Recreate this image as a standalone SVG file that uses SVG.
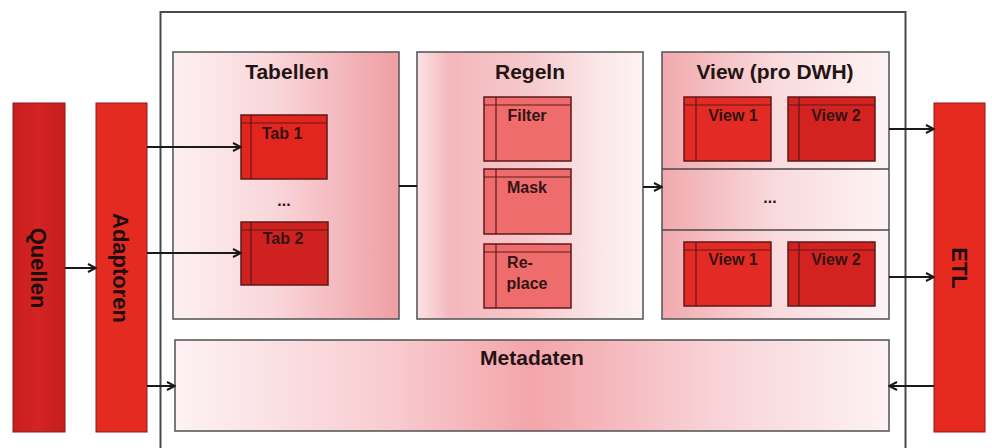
<svg xmlns="http://www.w3.org/2000/svg" width="992" height="448" viewBox="0 0 992 448">
<style>
.title{font-family:"Liberation Sans",Arial,sans-serif;font-weight:bold;font-size:21px;fill:#231414;text-anchor:middle}
.lbl{font-family:"Liberation Sans",Arial,sans-serif;font-weight:bold;font-size:16px;fill:#341414;text-anchor:middle}
.rot{font-family:"Liberation Sans",Arial,sans-serif;font-weight:bold;font-size:22px;fill:#1e0d0d;text-anchor:middle}
.panel{stroke:#5a5a5a;stroke-width:1.6}
.inner{stroke:#5e1818;stroke-width:1.5}
.sub{stroke:#5e1818;stroke-width:1.2;fill:none}
.bar{stroke:#8e1a1a;stroke-width:1}
.conn{stroke:#1a1a1a;stroke-width:2;fill:none}
</style>
<defs>
<marker id="arr" viewBox="0 0 10 10" refX="9" refY="5" markerWidth="10" markerHeight="10" markerUnits="userSpaceOnUse" orient="auto">
<path d="M1,1 L9,5 L1,9" fill="none" stroke="#1a1a1a" stroke-width="2"/>
</marker>
<linearGradient id="gTab" x1="0" y1="0" x2="1" y2="0">
<stop offset="0" stop-color="#fdf0f2"/><stop offset="0.45" stop-color="#f9d6da"/><stop offset="1" stop-color="#ef9ea3"/>
</linearGradient>
<linearGradient id="gReg" x1="0" y1="0" x2="1" y2="0">
<stop offset="0" stop-color="#fbe3e6"/><stop offset="0.15" stop-color="#f4b7bb"/><stop offset="0.5" stop-color="#f6c9cc"/><stop offset="0.8" stop-color="#fbe6e8"/><stop offset="1" stop-color="#fdf3f4"/>
</linearGradient>
<linearGradient id="gView" x1="0" y1="0" x2="1" y2="0">
<stop offset="0" stop-color="#f1a9ad"/><stop offset="0.5" stop-color="#f9dadd"/><stop offset="1" stop-color="#fdf3f4"/>
</linearGradient>
<linearGradient id="gMeta" x1="0" y1="0" x2="1" y2="0">
<stop offset="0" stop-color="#fdf2f4"/><stop offset="0.3" stop-color="#f8ccd0"/><stop offset="0.5" stop-color="#f3a5aa"/><stop offset="0.75" stop-color="#f8d2d6"/><stop offset="1" stop-color="#fdf2f4"/>
</linearGradient>
<linearGradient id="gBar" x1="0" y1="0" x2="1" y2="0">
<stop offset="0" stop-color="#c91e1e"/><stop offset="0.5" stop-color="#d42323"/><stop offset="1" stop-color="#c41d1d"/>
</linearGradient>
</defs>
<rect width="992" height="448" fill="#ffffff"/>

<g id="frame">
<path d="M160.5,448 V12 H905.5 V448" fill="none" stroke="#4a4a4a" stroke-width="2"/>
</g>

<g id="quellen">
<rect class="bar" x="13" y="103" width="52" height="329" fill="url(#gBar)"/>
<text class="rot" transform="translate(39,268) rotate(90)" dy="8">Quellen</text>
</g>

<g id="adaptoren">
<rect class="bar" x="96" y="103" width="51" height="329" fill="#e42b22"/>
<text class="rot" transform="translate(121,268) rotate(90)" dy="8">Adaptoren</text>
</g>

<g id="etl">
<rect class="bar" x="934" y="103" width="51" height="329" fill="#e6291f"/>
<text class="rot" transform="translate(960,268) rotate(90)" dy="8">ETL</text>
</g>

<g id="tabellen">
<rect class="panel" x="173" y="52" width="226" height="267" fill="url(#gTab)"/>
<text class="title" x="287" y="79">Tabellen</text>
<text class="lbl" x="284" y="206">...</text>
</g>

<g id="tab1">
<rect class="inner" x="241" y="115" width="86" height="64" fill="#e2261f"/>
<path class="sub" d="M241,123 H327 M251,115 V179"/>
<text class="lbl" x="282" y="139">Tab 1</text>
</g>

<g id="tab2">
<rect class="inner" x="241" y="222" width="87" height="63" fill="#d02121"/>
<path class="sub" d="M241,230 H328 M251,222 V285"/>
<text class="lbl" x="283" y="244">Tab 2</text>
</g>

<g id="regeln">
<rect class="panel" x="417" y="52" width="226" height="267" fill="url(#gReg)"/>
<text class="title" x="530" y="79">Regeln</text>
</g>

<g id="filter">
<rect class="inner" x="484" y="97" width="87" height="64" fill="#ee6c6c"/>
<path class="sub" d="M484,105 H571 M496,97 V161"/>
<text class="lbl" x="527" y="121">Filter</text>
</g>

<g id="mask">
<rect class="inner" x="484" y="169" width="87" height="65" fill="#ee6c6c"/>
<path class="sub" d="M484,177 H571 M496,169 V234"/>
<text class="lbl" x="527" y="193">Mask</text>
</g>

<g id="replace">
<rect class="inner" x="484" y="244" width="87" height="64" fill="#ee6c6c"/>
<path class="sub" d="M484,252 H571 M496,244 V308"/>
<text class="lbl" x="520" y="268">Re-</text>
<text class="lbl" x="527" y="289">place</text>
</g>

<g id="view">
<rect class="panel" x="662" y="52" width="227" height="267" fill="url(#gView)"/>
<path d="M662,169 H889 M662,230 H889" stroke="#4a4a4a" stroke-width="1.6"/>
<text class="title" x="775" y="79">View (pro DWH)</text>
<text class="lbl" x="770" y="203">...</text>
</g>

<g id="view1a">
<rect class="inner" x="684" y="97" width="87" height="64" fill="#e42a25"/>
<path class="sub" d="M684,105 H771 M696,97 V161"/>
<text class="lbl" x="733" y="121">View 1</text>
</g>

<g id="view2a">
<rect class="inner" x="788" y="97" width="87" height="64" fill="#d22320"/>
<path class="sub" d="M788,105 H875 M799,97 V161"/>
<text class="lbl" x="836" y="121">View 2</text>
</g>

<g id="view1b">
<rect class="inner" x="684" y="242" width="87" height="64" fill="#e42a25"/>
<path class="sub" d="M684,250 H771 M696,242 V306"/>
<text class="lbl" x="733" y="265">View 1</text>
</g>

<g id="view2b">
<rect class="inner" x="788" y="242" width="87" height="64" fill="#d22320"/>
<path class="sub" d="M788,250 H875 M799,242 V306"/>
<text class="lbl" x="836" y="265">View 2</text>
</g>

<g id="metadaten">
<rect class="panel" x="175" y="340" width="714" height="91" fill="url(#gMeta)"/>
<text class="title" x="532" y="365">Metadaten</text>
</g>

<g id="connectors">
<line class="conn" x1="65" y1="268" x2="96" y2="268" marker-end="url(#arr)"/>
<line class="conn" x1="147" y1="147" x2="241" y2="147" marker-end="url(#arr)"/>
<line class="conn" x1="147" y1="253" x2="241" y2="253" marker-end="url(#arr)"/>
<line class="conn" x1="147" y1="386" x2="175" y2="386" marker-end="url(#arr)"/>
<line class="conn" x1="399" y1="186" x2="417" y2="186"/>
<line class="conn" x1="643" y1="187" x2="662" y2="187" marker-end="url(#arr)"/>
<line class="conn" x1="889" y1="129" x2="934" y2="129" marker-end="url(#arr)"/>
<line class="conn" x1="889" y1="277" x2="934" y2="277" marker-end="url(#arr)"/>
<line class="conn" x1="934" y1="386" x2="889" y2="386" marker-end="url(#arr)"/>
</g>
</svg>
